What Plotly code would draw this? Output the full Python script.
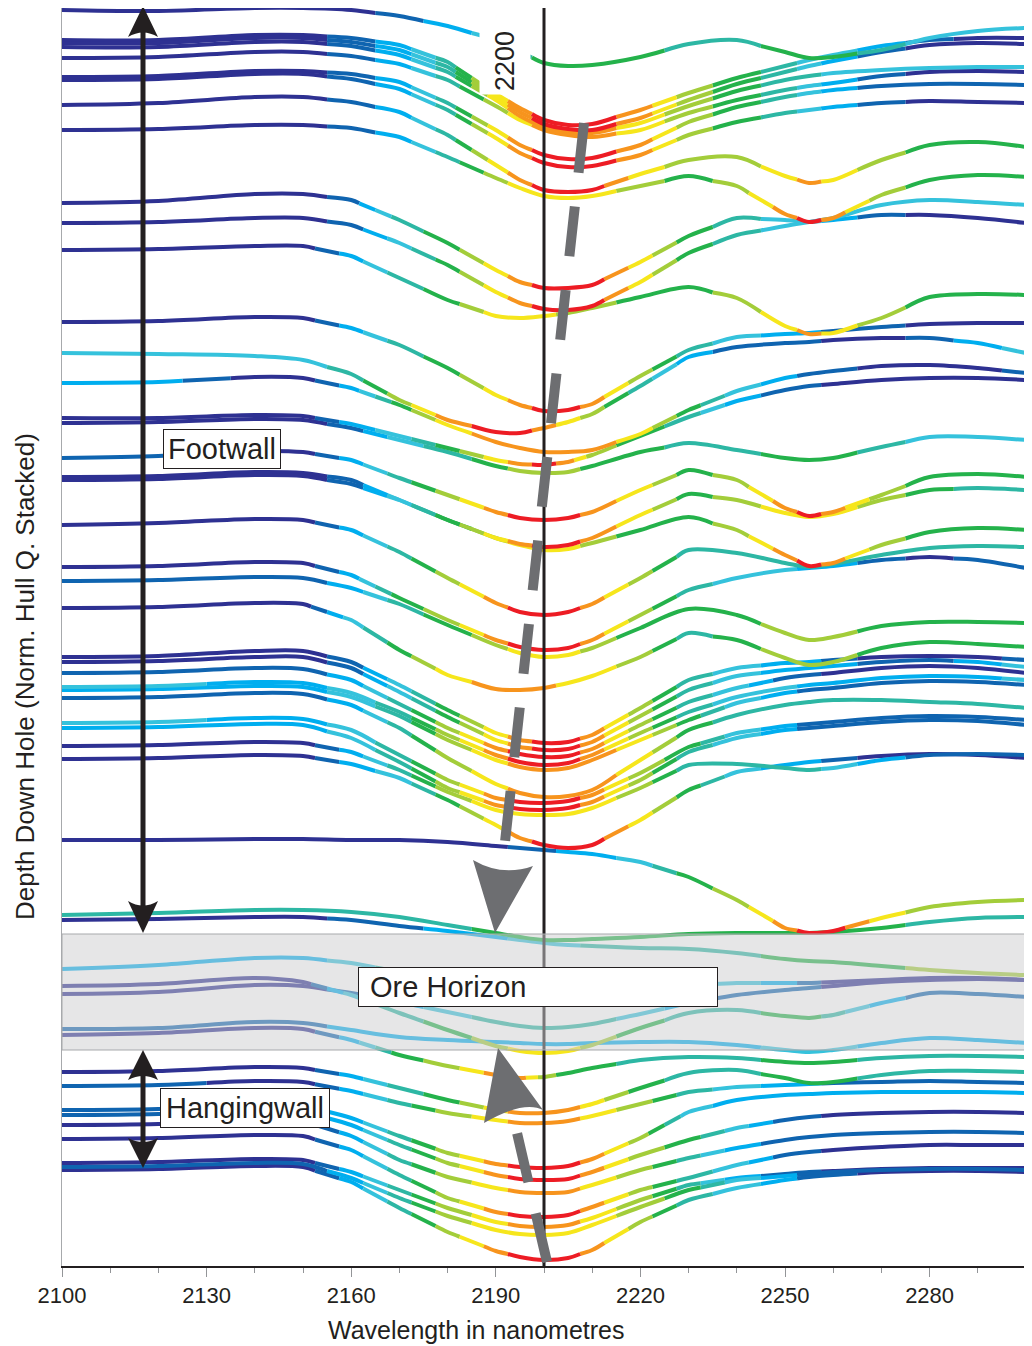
import math
import plotly.graph_objects as go

# ---------------- data ----------------
WAVELENGTHS = [2100, 2120, 2140, 2150, 2160, 2170, 2180, 2190, 2195, 2200, 2205,
               2210, 2220, 2230, 2240, 2250, 2255, 2260, 2270, 2280, 2290, 2300]

# stacked normalised hull-quotient traces (down-hole order, stacked units)
fw01 = [10, 11, 8, 8, 10, 16, 26, 40, 52, 63, 66, 65, 57, 44, 40, 52, 58, 57, 50, 38, 31, 28]
fw02 = [40, 40, 35, 35, 38, 45, 62, 94, 108, 120, 125, 124, 110, 93, 78, 66, 60, 55, 46, 40, 38, 38]
fw03 = [43, 43, 38, 38, 42, 50, 67, 97, 112, 124, 129, 130, 118, 100, 84, 72, 66, 61, 52, 45, 43, 44]
fw04 = [47, 47, 42, 42, 46, 55, 72, 100, 116, 127, 132, 133, 123, 106, 91, 80, 76, 73, 70, 68, 67, 67]
fw05 = [58, 57, 52, 52, 56, 64, 80, 106, 120, 130, 135, 137, 130, 113, 100, 90, 86, 83, 76, 72, 71, 72]
fw06 = [77, 76, 71, 71, 74, 82, 103, 130, 145, 155, 159, 158, 145, 122, 107, 97, 93, 90, 86, 84, 84, 85]
fw07 = [80, 79, 74, 74, 79, 89, 110, 138, 153, 163, 167, 166, 155, 135, 122, 113, 110, 107, 103, 101, 102, 103]
fw08 = [105, 103, 97, 97, 102, 112, 135, 165, 180, 190, 192, 190, 174, 160, 157, 176, 183, 180, 160, 145, 142, 147]
fw09 = [130, 129, 125, 125, 128, 137, 157, 178, 188, 196, 198, 196, 186, 176, 186, 214, 222, 218, 195, 180, 175, 177]
fw10 = [203, 201, 194, 194, 200, 220, 243, 270, 282, 288, 288, 285, 262, 236, 218, 220, 222, 220, 215, 215, 218, 223]
fw11 = [223, 222, 218, 218, 225, 243, 265, 292, 303, 309, 310, 306, 282, 253, 235, 226, 222, 218, 205, 200, 202, 205]
fw12 = [250, 249, 246, 246, 256, 278, 300, 316, 318, 316, 313, 308, 297, 287, 298, 326, 334, 333, 318, 297, 294, 295]
fw13 = [322, 321, 317, 318, 328, 345, 368, 395, 405, 411, 410, 404, 376, 350, 337, 334, 333, 331, 327, 324, 323, 323]
fw14 = [353, 354, 356, 360, 374, 400, 420, 432, 433, 428, 422, 414, 386, 357, 347, 343, 342, 340, 338, 338, 343, 353]
fw15 = [383, 382, 377, 378, 388, 405, 425, 442, 448, 452, 452, 450, 434, 410, 391, 378, 374, 371, 366, 365, 368, 373]
fw16 = [418, 418, 415, 416, 424, 436, 448, 460, 464, 465, 462, 455, 436, 417, 401, 390, 386, 384, 380, 378, 378, 380]
fw17 = [423, 422, 419, 420, 428, 440, 452, 466, 471, 473, 472, 466, 452, 443, 450, 458, 460, 458, 447, 437, 437, 440]
fw18 = [458, 456, 451, 452, 460, 478, 495, 512, 518, 520, 518, 512, 490, 470, 480, 508, 516, 512, 495, 477, 474, 477]
fw19 = [477, 476, 472, 473, 480, 500, 520, 538, 544, 547, 545, 538, 515, 494, 500, 513, 517, 514, 500, 490, 488, 490]
fw20 = [480, 479, 475, 476, 484, 500, 520, 538, 545, 550, 549, 543, 530, 517, 530, 555, 566, 563, 545, 532, 528, 530]
fw21 = [525, 523, 519, 520, 530, 552, 578, 603, 612, 615, 612, 604, 578, 550, 553, 563, 567, 564, 555, 548, 546, 547]
fw22 = [567, 566, 562, 563, 575, 598, 620, 640, 647, 650, 648, 640, 615, 590, 578, 570, 568, 566, 560, 557, 560, 568]
fw23 = [581, 580, 577, 578, 588, 604, 625, 645, 653, 657, 655, 648, 628, 609, 615, 633, 640, 637, 626, 622, 622, 623]
fw24 = [608, 607, 603, 604, 620, 650, 675, 689, 690, 688, 683, 676, 657, 633, 640, 658, 665, 662, 648, 642, 644, 647]
fw25 = [657, 656, 651, 651, 662, 685, 710, 733, 740, 743, 742, 735, 708, 680, 668, 663, 662, 660, 657, 656, 657, 660]
fw26 = [662, 661, 657, 657, 668, 692, 717, 740, 747, 750, 749, 742, 716, 690, 676, 670, 668, 666, 662, 660, 662, 667]
fw27 = [673, 672, 668, 669, 680, 704, 728, 748, 754, 757, 756, 749, 725, 702, 688, 678, 675, 673, 668, 666, 668, 673]
fw28 = [687, 686, 682, 683, 693, 712, 735, 755, 762, 765, 763, 755, 733, 712, 697, 688, 685, 683, 678, 676, 677, 680]
fw29 = [690, 689, 686, 687, 697, 716, 740, 760, 767, 770, 768, 760, 740, 720, 703, 693, 690, 688, 683, 681, 682, 685]
fw30 = [698, 697, 693, 694, 705, 728, 758, 784, 793, 797, 796, 790, 760, 730, 715, 705, 702, 700, 700, 702, 704, 708]
fw31 = [723, 722, 718, 719, 730, 755, 780, 798, 802, 803, 801, 795, 773, 747, 733, 726, 724, 722, 718, 716, 717, 720]
fw32 = [728, 727, 724, 725, 738, 762, 788, 805, 809, 810, 808, 802, 780, 752, 738, 730, 728, 726, 722, 720, 721, 725]
fw33 = [746, 745, 742, 743, 752, 770, 792, 810, 814, 815, 814, 808, 788, 765, 764, 768, 770, 768, 760, 755, 754, 755]
fw34 = [759, 758, 755, 756, 764, 778, 800, 825, 838, 845, 848, 845, 820, 790, 772, 765, 762, 760, 756, 754, 755, 758]
fw35 = [840, 840, 839, 839, 840, 840, 842, 846, 848, 850, 852, 854, 862, 877, 900, 928, 933, 931, 918, 907, 902, 900]
fw36 = [915, 913, 910, 910, 912, 917, 925, 933, 937, 940, 940, 939, 937, 934, 933, 933, 933, 932, 928, 922, 918, 917]
fw37 = [920, 919, 917, 917, 920, 926, 931, 937, 940, 943, 945, 946, 948, 949, 953, 959, 961, 962, 966, 970, 973, 975]
ore1 = [969, 965, 958, 958, 963, 972, 983, 992, 995, 997, 997, 995, 990, 985, 983, 983, 983, 982, 980, 978, 978, 980]
ore2 = [986, 984, 978, 982, 995, 1013, 1030, 1046, 1051, 1053, 1051, 1045, 1028, 1013, 1010, 1016, 1018, 1015, 1003, 993, 994, 997]
ore3 = [994, 992, 985, 986, 993, 1002, 1012, 1022, 1026, 1028, 1027, 1024, 1014, 1003, 995, 990, 988, 986, 982, 980, 979, 980]
ore4 = [1029, 1028, 1022, 1023, 1030, 1037, 1040, 1042, 1043, 1044, 1044, 1043, 1042, 1042, 1045, 1050, 1052, 1050, 1043, 1038, 1040, 1043]
ore5 = [1035, 1033, 1028, 1029, 1040, 1055, 1066, 1075, 1078, 1077, 1073, 1068, 1060, 1057, 1058, 1062, 1063, 1062, 1058, 1056, 1056, 1057]
hw1 = [1072, 1071, 1067, 1068, 1076, 1088, 1100, 1110, 1113, 1113, 1110, 1104, 1088, 1073, 1070, 1078, 1083, 1082, 1075, 1071, 1071, 1072]
hw2 = [1086, 1085, 1081, 1082, 1091, 1103, 1113, 1120, 1123, 1123, 1121, 1116, 1104, 1092, 1087, 1085, 1084, 1083, 1082, 1081, 1082, 1083]
hw3 = [1110, 1109, 1104, 1105, 1118, 1136, 1153, 1164, 1167, 1168, 1166, 1159, 1138, 1112, 1100, 1095, 1094, 1093, 1092, 1092, 1092, 1093]
hw4 = [1115, 1114, 1110, 1111, 1125, 1145, 1163, 1175, 1179, 1180, 1179, 1172, 1155, 1140, 1128, 1120, 1117, 1115, 1113, 1112, 1112, 1113]
hw5 = [1125, 1124, 1120, 1121, 1136, 1160, 1177, 1188, 1192, 1193, 1192, 1185, 1170, 1158, 1148, 1140, 1137, 1135, 1133, 1132, 1132, 1133]
hw6 = [1139, 1138, 1135, 1136, 1150, 1175, 1198, 1212, 1216, 1217, 1215, 1207, 1190, 1178, 1165, 1155, 1152, 1150, 1147, 1145, 1145, 1145]
hw7 = [1163, 1162, 1159, 1160, 1172, 1190, 1208, 1222, 1226, 1227, 1225, 1218, 1200, 1185, 1178, 1174, 1172, 1171, 1169, 1168, 1168, 1168]
hw8 = [1167, 1166, 1163, 1164, 1178, 1198, 1216, 1230, 1234, 1235, 1233, 1225, 1207, 1190, 1180, 1176, 1174, 1172, 1170, 1169, 1169, 1170]
hw9 = [1170, 1169, 1166, 1167, 1182, 1208, 1232, 1251, 1257, 1260, 1258, 1250, 1222, 1200, 1188, 1180, 1177, 1175, 1172, 1171, 1171, 1172]

# absorption-depth colour class (0 = none ... 9 = deepest) at each wavelength
fw01_c = [0, 0, 0, 0, 0, 1, 2, 3, 4, 5, 5, 5, 5, 4, 4, 5, 5, 5, 4, 3, 3, 3]
fw02_c = [0, 0, 0, 0, 1, 2, 4, 7, 8, 9, 9, 9, 8, 6, 5, 4, 3, 3, 2, 1, 0, 0]
fw03_c = [0, 0, 0, 0, 1, 2, 4, 7, 8, 9, 9, 9, 8, 6, 5, 4, 3, 2, 1, 0, 0, 0]
fw04_c = [0, 0, 0, 0, 1, 2, 4, 7, 8, 8, 8, 8, 7, 6, 5, 4, 4, 3, 3, 3, 3, 3]
fw05_c = [0, 0, 0, 0, 1, 2, 4, 6, 7, 8, 8, 8, 7, 6, 5, 4, 3, 2, 1, 0, 0, 0]
fw06_c = [0, 0, 0, 0, 1, 2, 4, 7, 8, 9, 9, 9, 8, 6, 5, 4, 3, 2, 1, 1, 1, 1]
fw07_c = [0, 0, 0, 0, 1, 2, 4, 7, 8, 9, 9, 9, 8, 6, 5, 4, 3, 2, 1, 0, 0, 0]
fw08_c = [0, 0, 0, 0, 1, 2, 4, 7, 8, 9, 9, 9, 7, 6, 6, 7, 8, 7, 6, 5, 5, 5]
fw09_c = [0, 0, 0, 0, 1, 2, 4, 6, 7, 7, 7, 7, 6, 5, 6, 8, 9, 8, 6, 5, 5, 5]
fw10_c = [0, 0, 0, 0, 1, 4, 5, 7, 8, 9, 9, 9, 7, 5, 4, 3, 3, 2, 1, 0, 0, 0]
fw11_c = [0, 0, 0, 0, 1, 3, 5, 7, 8, 9, 9, 9, 7, 5, 4, 3, 3, 3, 3, 3, 3, 3]
fw12_c = [0, 0, 0, 0, 2, 4, 5, 7, 7, 7, 6, 6, 5, 5, 6, 7, 8, 7, 6, 5, 5, 5]
fw13_c = [0, 0, 0, 0, 2, 4, 5, 7, 8, 9, 9, 8, 6, 4, 3, 2, 2, 1, 1, 0, 0, 0]
fw14_c = [3, 3, 3, 3, 4, 6, 8, 9, 9, 8, 7, 6, 4, 2, 1, 1, 1, 0, 0, 1, 2, 3]
fw15_c = [2, 2, 0, 0, 2, 5, 7, 8, 8, 8, 8, 8, 7, 5, 3, 2, 1, 1, 0, 0, 0, 1]
fw16_c = [0, 0, 0, 0, 2, 3, 5, 7, 8, 9, 8, 6, 5, 4, 2, 1, 1, 0, 0, 0, 0, 0]
fw17_c = [0, 0, 0, 0, 1, 3, 4, 5, 6, 6, 6, 5, 5, 4, 4, 5, 5, 5, 4, 3, 3, 3]
fw18_c = [1, 1, 0, 0, 2, 4, 6, 8, 9, 9, 9, 8, 7, 5, 6, 8, 9, 8, 6, 5, 5, 5]
fw19_c = [0, 0, 0, 0, 1, 3, 5, 7, 8, 9, 9, 8, 7, 5, 6, 7, 7, 7, 6, 5, 4, 4]
fw20_c = [0, 0, 0, 0, 1, 3, 5, 6, 7, 7, 7, 6, 5, 5, 6, 8, 9, 8, 6, 5, 5, 5]
fw21_c = [0, 0, 0, 0, 2, 4, 6, 8, 9, 9, 9, 8, 6, 4, 4, 4, 4, 4, 4, 4, 4, 4]
fw22_c = [0, 0, 0, 0, 2, 5, 6, 8, 9, 9, 9, 8, 6, 4, 3, 3, 2, 2, 1, 0, 1, 1]
fw23_c = [1, 1, 1, 1, 2, 4, 5, 6, 7, 7, 7, 6, 5, 5, 5, 6, 6, 6, 5, 5, 5, 5]
fw24_c = [0, 0, 0, 0, 3, 5, 7, 8, 8, 8, 7, 7, 6, 4, 5, 6, 6, 6, 5, 5, 5, 5]
fw25_c = [0, 0, 0, 0, 1, 3, 5, 7, 8, 9, 9, 8, 6, 4, 3, 2, 2, 1, 0, 0, 0, 1]
fw26_c = [0, 0, 0, 0, 1, 3, 5, 7, 8, 9, 9, 8, 6, 4, 3, 2, 2, 2, 1, 1, 2, 3]
fw27_c = [1, 1, 1, 1, 2, 4, 6, 8, 9, 9, 9, 8, 6, 4, 3, 1, 1, 0, 0, 0, 0, 0]
fw28_c = [3, 3, 2, 2, 3, 4, 6, 8, 9, 9, 9, 8, 6, 4, 3, 3, 2, 2, 2, 2, 2, 3]
fw29_c = [2, 2, 2, 2, 3, 4, 6, 7, 8, 8, 8, 8, 7, 5, 3, 2, 1, 1, 1, 1, 1, 1]
fw30_c = [1, 1, 1, 1, 2, 4, 6, 7, 8, 8, 8, 8, 7, 5, 4, 4, 4, 4, 4, 4, 4, 4]
fw31_c = [3, 3, 2, 2, 3, 4, 6, 8, 9, 9, 9, 8, 6, 5, 3, 2, 1, 1, 1, 1, 1, 1]
fw32_c = [2, 2, 2, 2, 3, 4, 6, 8, 9, 9, 9, 8, 6, 4, 3, 2, 1, 1, 1, 1, 1, 1]
fw33_c = [0, 0, 0, 0, 2, 4, 6, 7, 7, 7, 7, 7, 6, 4, 4, 4, 4, 3, 2, 1, 1, 1]
fw34_c = [0, 0, 0, 0, 2, 3, 5, 7, 8, 9, 9, 9, 7, 5, 3, 2, 2, 1, 0, 0, 0, 0]
fw35_c = [0, 0, 0, 0, 0, 0, 0, 0, 1, 1, 2, 2, 3, 5, 6, 8, 9, 9, 7, 6, 6, 6]
fw36_c = [4, 4, 4, 4, 4, 4, 4, 5, 5, 5, 5, 5, 5, 5, 5, 5, 5, 5, 5, 4, 4, 4]
fw37_c = [0, 0, 0, 0, 1, 1, 2, 2, 3, 3, 3, 4, 4, 4, 4, 5, 5, 5, 5, 6, 6, 6]
ore1_c = [2, 2, 2, 2, 3, 4, 4, 4, 4, 4, 4, 4, 4, 4, 3, 2, 1, 0, 0, 0, 0, 0]
ore2_c = [0, 0, 0, 0, 3, 4, 5, 6, 7, 7, 7, 6, 5, 4, 4, 5, 5, 4, 2, 1, 1, 1]
ore3_c = [0, 0, 0, 0, 1, 2, 3, 4, 4, 4, 4, 4, 3, 2, 1, 1, 1, 0, 0, 0, 0, 0]
ore4_c = [1, 1, 1, 1, 2, 2, 2, 2, 2, 2, 2, 2, 2, 2, 2, 3, 3, 3, 2, 2, 2, 2]
ore5_c = [0, 0, 0, 0, 2, 5, 6, 8, 8, 6, 5, 5, 4, 4, 4, 5, 5, 5, 4, 4, 4, 4]
hw1_c = [0, 0, 0, 0, 2, 4, 5, 7, 8, 8, 8, 7, 5, 4, 4, 5, 5, 5, 4, 4, 4, 4]
hw2_c = [1, 1, 0, 0, 2, 4, 6, 7, 8, 8, 8, 7, 6, 4, 3, 2, 2, 1, 1, 1, 1, 1]
hw3_c = [1, 1, 1, 1, 2, 4, 6, 8, 9, 9, 9, 8, 6, 3, 2, 2, 2, 2, 2, 2, 2, 2]
hw4_c = [1, 1, 1, 1, 2, 4, 6, 8, 9, 9, 9, 8, 6, 5, 3, 1, 1, 0, 0, 0, 0, 0]
hw5_c = [0, 0, 0, 0, 2, 4, 6, 7, 8, 8, 8, 7, 6, 4, 2, 1, 1, 1, 1, 1, 1, 1]
hw6_c = [0, 0, 0, 0, 2, 4, 6, 8, 9, 9, 9, 8, 6, 4, 3, 1, 1, 0, 0, 0, 0, 0]
hw7_c = [0, 0, 0, 0, 2, 4, 6, 7, 8, 8, 8, 7, 6, 4, 2, 1, 1, 0, 0, 0, 0, 0]
hw8_c = [1, 1, 1, 1, 2, 4, 6, 7, 7, 7, 7, 7, 6, 5, 3, 2, 1, 1, 1, 1, 1, 1]
hw9_c = [0, 0, 0, 0, 2, 4, 6, 8, 9, 9, 9, 8, 6, 4, 3, 2, 1, 1, 0, 0, 0, 0]

SPECTRA = [
    (fw01, fw01_c), (fw02, fw02_c), (fw03, fw03_c), (fw04, fw04_c), (fw05, fw05_c),
    (fw06, fw06_c), (fw07, fw07_c), (fw08, fw08_c), (fw09, fw09_c), (fw10, fw10_c),
    (fw11, fw11_c), (fw12, fw12_c), (fw13, fw13_c), (fw14, fw14_c), (fw15, fw15_c),
    (fw16, fw16_c), (fw17, fw17_c), (fw18, fw18_c), (fw19, fw19_c), (fw20, fw20_c),
    (fw21, fw21_c), (fw22, fw22_c), (fw23, fw23_c), (fw24, fw24_c), (fw25, fw25_c),
    (fw26, fw26_c), (fw27, fw27_c), (fw28, fw28_c), (fw29, fw29_c), (fw30, fw30_c),
    (fw31, fw31_c), (fw32, fw32_c), (fw33, fw33_c), (fw34, fw34_c), (fw35, fw35_c),
    (fw36, fw36_c), (fw37, fw37_c),
    (ore1, ore1_c), (ore2, ore2_c), (ore3, ore3_c), (ore4, ore4_c), (ore5, ore5_c),
    (hw1, hw1_c), (hw2, hw2_c), (hw3, hw3_c), (hw4, hw4_c), (hw5, hw5_c),
    (hw6, hw6_c), (hw7, hw7_c), (hw8, hw8_c), (hw9, hw9_c),
]

X_TICKS = [2100, 2130, 2160, 2190, 2220, 2250, 2280]

# ---------------- styling ----------------
PALETTE = ['#2e3192', '#0f64b0', '#00aeef', '#35c2dc', '#2db7a4',
           '#24b24b', '#a3cd3a', '#f6e61c', '#f7941d', '#ed1c24']
FONT = "Liberation Sans, Arial, Helvetica, sans-serif"
INK = '#231f20'
GREY = '#6d6e71'


# Split each trace into runs of one colour class; the class changes half-way
# between data points, so every data point sits inside a run and the library's
# spline can round it.
bins = {}
W = WAVELENGTHS
for ys, cs in SPECTRA:
    cur = cs[0]
    rx, ry = [W[0]], [ys[0]]
    for i in range(len(W) - 1):
        c0, c1 = cs[i], cs[i + 1]
        n = abs(c1 - c0)
        step = 1 if c1 > c0 else -1
        for j in range(n):
            t = (j + 0.5) / n
            xb = W[i] + (W[i + 1] - W[i]) * t
            yb = ys[i] + (ys[i + 1] - ys[i]) * t
            rx.append(xb)
            ry.append(yb)
            bins.setdefault(cur, []).append((rx, ry))
            cur += step
            rx, ry = [xb], [yb]
        rx.append(W[i + 1])
        ry.append(ys[i + 1])
    bins.setdefault(cur, []).append((rx, ry))

fig = go.Figure()
for b in sorted(bins):
    xs, yv = [], []
    for px, py in bins[b]:
        xs += px + [None]
        yv += py + [None]
    fig.add_trace(go.Scatter(x=xs, y=yv, mode='lines',
                             line=dict(color=PALETTE[b], width=4, shape='spline',
                                       smoothing=1.0),
                             hoverinfo='skip', showlegend=False))

# page pixel -> data helpers for decorations (plot area spans x 62..1026, y 8..1266)
X0_PX, X1_PX = 62, 1026


def X(px):
    return 2100 + (px - X0_PX) * 200.0 / (X1_PX - X0_PX)


def tri(p0, tip, p2, ctrl):
    return (f"M {X(p0[0])},{p0[1]} L {X(tip[0])},{tip[1]} L {X(p2[0])},{p2[1]} "
            f"Q {X(ctrl[0])},{ctrl[1]} {X(p0[0])},{p0[1]} Z")


shapes = []
shapes.append(dict(type='line', xref='x', yref='y', x0=2200, x1=2200, y0=8, y1=1266,
                   line=dict(color=INK, width=3), layer='above'))
shapes.append(dict(type='rect', xref='x', yref='y', x0=2100, x1=2300, y0=934, y1=1050,
                   fillcolor='rgb(205,206,208)', opacity=0.5, line=dict(width=0), layer='above'))
shapes.append(dict(type='rect', xref='x', yref='y', x0=2100, x1=2300, y0=934, y1=1050,
                   fillcolor='rgba(0,0,0,0)', line=dict(color='#a7a9ac', width=1), layer='above'))
shapes.append(dict(type='line', xref='x', yref='y', x0=X(584), y0=123, x1=X(504), y1=851,
                   line=dict(color=GREY, width=10, dash='50px,34px'), layer='above'))
shapes.append(dict(type='line', xref='x', yref='y', x0=X(547), y0=1262, x1=X(514), y1=1120,
                   line=dict(color=GREY, width=10, dash='50px,32px'), layer='above'))
shapes.append(dict(type='path', xref='x', yref='y', layer='above', fillcolor=GREY,
                   line=dict(width=0),
                   path=tri((473, 860), (495, 933), (533, 866), (502, 877))))
shapes.append(dict(type='path', xref='x', yref='y', layer='above', fillcolor=GREY,
                   line=dict(width=0),
                   path=tri((484, 1123), (498, 1048), (543, 1110), (524, 1100))))
AX = 143
shapes.append(dict(type='line', xref='x', yref='y', x0=X(AX), x1=X(AX), y0=30, y1=906,
                   line=dict(color=INK, width=5), layer='above'))
shapes.append(dict(type='line', xref='x', yref='y', x0=X(AX), x1=X(AX), y0=1074, y1=1144,
                   line=dict(color=INK, width=5), layer='above'))
for p0, tip, p2, ctrl in [
        ((128, 37), (AX, 6), (158, 37), (AX, 28)),
        ((128, 901), (AX, 933), (158, 901), (AX, 910)),
        ((128, 1080), (AX, 1050), (158, 1080), (AX, 1072)),
        ((128, 1138), (AX, 1168), (158, 1138), (AX, 1146))]:
    shapes.append(dict(type='path', xref='x', yref='y', layer='above', fillcolor=INK,
                       line=dict(width=0), path=tri(p0, tip, p2, ctrl)))

box = dict(showarrow=False, xref='x', yref='y', bgcolor='white', bordercolor=INK,
           borderwidth=1, borderpad=3, font=dict(family=FONT, size=29, color=INK))
annotations = [
    dict(text='Footwall', x=X(222), y=448.5, width=110, **box),
    dict(text='\u00a0Ore Horizon', x=X(538), y=986.5, width=352, align='left', **box),
    dict(text='Hangingwall', x=X(245), y=1108, width=162, **box),
    dict(text='2200', x=X(505), y=61, textangle=-90, showarrow=False, xref='x', yref='y',
         bgcolor='white', borderpad=3, width=60, height=44,
         font=dict(family=FONT, size=27, color=INK)),
    dict(text='Wavelength in nanometres', x=(475.5 - X0_PX) / (X1_PX - X0_PX),
         y=(1266 - 1330) / 1258.0, xref='paper', yref='paper', showarrow=False,
         xanchor='center', yanchor='middle', font=dict(family=FONT, size=25, color=INK)),
    dict(text='Depth Down Hole (Norm. Hull Q. Stacked)', x=(25 - X0_PX) / (X1_PX - X0_PX),
         y=(1266 - 677) / 1258.0, xref='paper', yref='paper', showarrow=False, textangle=-90,
         xanchor='center', yanchor='middle', font=dict(family=FONT, size=26, color=INK)),
]

# the page body adds an 8px offset, so the figure is 8px smaller with a matching margin
fig.update_layout(
    width=1024, height=1338,
    margin=dict(l=54, r=6, t=0, b=80, autoexpand=False),
    paper_bgcolor='white', plot_bgcolor='white',
    showlegend=False,
    shapes=shapes, annotations=annotations,
    xaxis=dict(range=[2100, 2300], tickvals=X_TICKS, ticks='outside', ticklen=9,
               tickcolor='#939598', tickwidth=1,
               minor=dict(dtick=10, tick0=2100, ticks='outside', ticklen=5,
                          tickcolor='#939598', tickwidth=1, showgrid=False),
               showline=True, linecolor=INK, linewidth=1.5, showgrid=False, zeroline=False,
               tickfont=dict(family=FONT, size=22, color=INK), ticklabelstandoff=0),
    yaxis=dict(range=[1266, 8], showticklabels=False, ticks='', showline=True,
               linecolor='#a7a9ac', linewidth=1, showgrid=False, zeroline=False),
)

fig.write_html("out.html")
